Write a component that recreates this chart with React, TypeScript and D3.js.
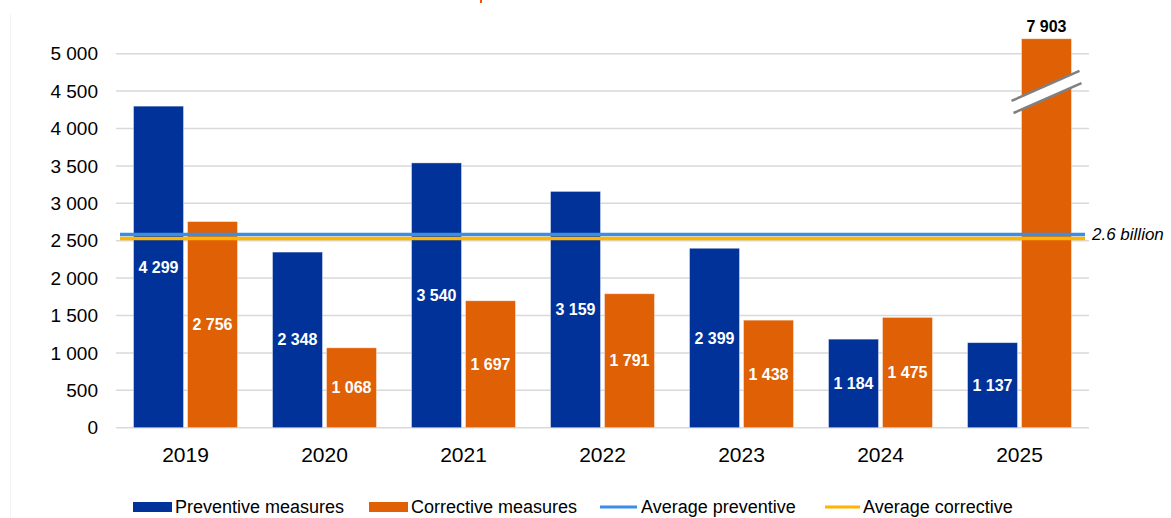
import React from "react";
import * as d3 from "d3";

const years = ["2019", "2020", "2021", "2022", "2023", "2024", "2025"];
const preventive = [4299, 2348, 3540, 3159, 2399, 1184, 1137];
const corrective = [2756, 1068, 1697, 1791, 1438, 1475, 7903];
const averageLines = [
  { name: "Average preventive", value: 2583, color: "#3a8ee6" },
  { name: "Average corrective", value: 2529, color: "#ffb400" },
];
const yTicks = [0, 500, 1000, 1500, 2000, 2500, 3000, 3500, 4000, 4500, 5000];
const axisCap = 5200;
const averageLabel = "2.6 billion";

const BLUE = "#003299";
const ORANGE = "#e06005";
const FONT = "'Liberation Sans', Arial, sans-serif";

const W = 1171;
const H = 518;

const fmt = (v: number) => {
  const s = String(Math.round(v));
  return s.replace(/\B(?=(\d{3})+(?!\d))/g, " ");
};

export default function App() {
  const y = d3.scaleLinear().domain([0, 5000]).range([427.7, 53.7]);
  const x = d3
    .scaleBand<string>()
    .domain(years)
    .range([116, 1089])
    .paddingInner(0.252)
    .paddingOuter(0.126);
  const gap = 4;
  const bw = (x.bandwidth() - gap) / 2;
  const left = 116;
  const right = 1089;

  const bars: any[] = [];
  years.forEach((yr, i) => {
    const x0 = x(yr)!;
    bars.push({ yr, v: preventive[i], x: x0, color: BLUE, key: "p" + i });
    bars.push({ yr, v: corrective[i], x: x0 + bw + gap, color: ORANGE, key: "c" + i });
  });

  return (
    <svg
      width={W}
      height={H}
      style={{ position: "absolute", left: 0, top: 0, background: "#fff" }}
      fontFamily={FONT}
    >
      <line x1={10.5} x2={10.5} y1={14} y2={H} stroke="#f2f2f2" strokeWidth={1} />
      <line x1={481} x2={481} y1={0} y2={3} stroke="#ff4b00" strokeWidth={2} />
      {yTicks.map((t) => (
        <g key={t}>
          <line
            x1={left}
            x2={right}
            y1={y(t)}
            y2={y(t)}
            stroke="#d9d9d9"
            strokeWidth={1.5}
          />
          <text
            x={98}
            y={y(t)}
            dy="0.35em"
            textAnchor="end"
            fontSize={19}
            fill="#000"
          >
            {fmt(t)}
          </text>
        </g>
      ))}
      {bars.map((b) => {
        const dv = Math.min(b.v, axisCap);
        const top = y(dv);
        const h = y(0) - top;
        const truncated = b.v > axisCap;
        return (
          <g key={b.key}>
            <rect
              x={b.x}
              y={top}
              width={bw}
              height={h}
              fill={b.color}
              stroke="#ffffff"
              strokeOpacity={0.5}
              strokeWidth={0.8}
            />
            {!truncated && (
              <text
                x={b.x + bw / 2}
                y={top + h / 2}
                dy="0.35em"
                textAnchor="middle"
                fontSize={16}
                fontWeight="bold"
                fill="#fff"
              >
                {fmt(b.v)}
              </text>
            )}
            {truncated && (
              <g>
                <text
                  x={b.x + bw / 2}
                  y={top - 7}
                  textAnchor="middle"
                  fontSize={16}
                  fontWeight="bold"
                  fill="#000"
                >
                  {fmt(b.v)}
                </text>
                <polygon
                  points={`${b.x - 10},${y(4368)} ${b.x + bw + 8},${y(4769)} ${b.x + bw + 10},${y(4608)} ${b.x - 8},${y(4207)}`}
                  fill="#fff"
                />
                <line
                  x1={b.x - 10}
                  y1={y(4368)}
                  x2={b.x + bw + 8}
                  y2={y(4769)}
                  stroke="#808080"
                  strokeWidth={2.5}
                />
                <line
                  x1={b.x - 8}
                  y1={y(4207)}
                  x2={b.x + bw + 10}
                  y2={y(4608)}
                  stroke="#808080"
                  strokeWidth={2.5}
                />
              </g>
            )}
          </g>
        );
      })}
      {averageLines.map((a) => (
        <line
          key={a.name}
          x1={left + 4}
          x2={right - 4}
          y1={y(a.value)}
          y2={y(a.value)}
          stroke={a.color}
          strokeWidth={3.5}
        />
      ))}
      <text
        x={1092}
        y={y(2583)}
        dy="0.35em"
        fontSize={17}
        fontStyle="italic"
        fill="#000"
      >
        {averageLabel}
      </text>
      {years.map((yr) => (
        <text
          key={yr}
          x={x(yr)! + x.bandwidth() / 2}
          y={462}
          textAnchor="middle"
          fontSize={21}
          fill="#000"
        >
          {yr}
        </text>
      ))}
      <g fontSize={18}>
        <rect x={133} y={502} width={39} height={10} fill={BLUE} />
        <text x={175} y={513}>Preventive measures</text>
        <rect x={369} y={502} width={39} height={10} fill={ORANGE} />
        <text x={411} y={513}>Corrective measures</text>
        <line x1={600} x2={637} y1={507} y2={507} stroke="#3a8ee6" strokeWidth={3} />
        <text x={641} y={513}>Average preventive</text>
        <line x1={825} x2={860} y1={507} y2={507} stroke="#ffb400" strokeWidth={3} />
        <text x={863} y={513}>Average corrective</text>
      </g>
    </svg>
  );
}
